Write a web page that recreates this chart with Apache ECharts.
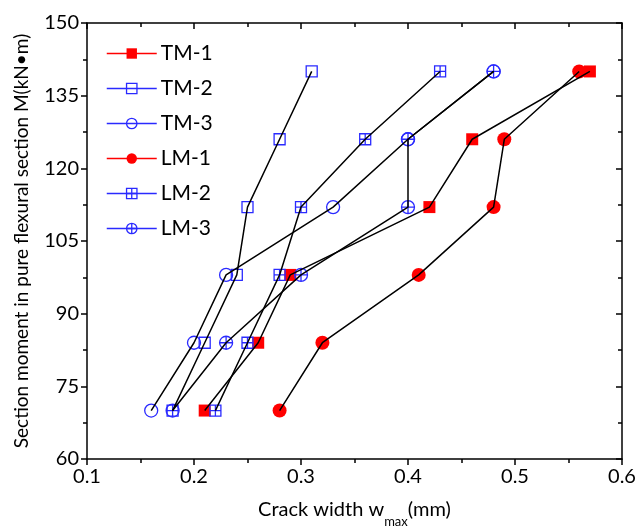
<!DOCTYPE html>
<html>
<head>
<meta charset="utf-8">
<script src="https://cdn.jsdelivr.net/npm/echarts@6/dist/echarts.min.js"></script>
<style>
  html, body { margin: 0; padding: 0; background: #fff; }
  #chart { width: 636px; height: 526px; }
</style>
</head>
<body>
<div id="chart"></div>
<script>
// Section moment levels (kN·m) at which crack widths were recorded
const moments = [70, 84, 98, 112, 126, 140];

// Maximum crack width w_max (mm) for each specimen at the moments above
const tm1 = [0.21, 0.26, 0.29, 0.42, 0.46, 0.57];
const tm2 = [0.18, 0.21, 0.24, 0.25, 0.28, 0.31];
const tm3 = [0.16, 0.20, 0.23, 0.33, 0.40, 0.48];
const lm1 = [0.28, 0.32, 0.41, 0.48, 0.49, 0.56];
const lm2 = [0.22, 0.25, 0.28, 0.30, 0.36, 0.43];
const lm3 = [0.18, 0.23, 0.30, 0.40, 0.40, 0.48];

const names = ['TM-1', 'TM-2', 'TM-3', 'LM-1', 'LM-2', 'LM-3'];
const widths = [tm1, tm2, tm3, lm1, lm2, lm3];

const RED = '#ff0000';
const BLUE = '#2a2aff';
const FONT = 'Lato';

// Marker glyphs: filled square, open square, open circle, filled circle,
// square with cross, circle with cross
const SQ_PLUS = 'path://M0,0H10V10H0Z M5,0V10 M0,5H10';
const CI_PLUS = 'path://M10,5A5,5,0,1,1,0,5A5,5,0,1,1,10,5Z M5,0V10 M0,5H10';
const styles = [
  { symbol: 'rect', size: 12, color: RED, fill: true },
  { symbol: 'rect', size: 11, color: BLUE, fill: false },
  { symbol: 'circle', size: 13, color: BLUE, fill: false },
  { symbol: 'circle', size: 14, color: RED, fill: true },
  { symbol: SQ_PLUS, size: 11, color: BLUE, fill: false },
  { symbol: CI_PLUS, size: 13, color: BLUE, fill: false }
];
const markerZ = [4, 5, 5, 3, 6, 7];

function pairs(xs) {
  return xs.map((w, i) => [w, moments[i]]);
}

const series = [];
// Coloured markers (legend entries); their own connecting line is hidden
names.forEach((name, i) => {
  const s = styles[i];
  series.push({
    name: name,
    type: 'line',
    data: pairs(widths[i]),
    symbol: s.symbol,
    symbolSize: s.size,
    showSymbol: true,
    z: markerZ[i],
    lineStyle: { color: s.color, width: 1.5, opacity: 0 },
    itemStyle: {
      color: s.fill ? s.color : 'rgba(0,0,0,0)',
      borderColor: s.color,
      borderWidth: s.fill ? 0 : 1.3,
      opacity: 1
    },
    emphasis: { disabled: true },
    animation: false
  });
});
// Black connecting lines drawn above the markers
names.forEach((name, i) => {
  series.push({
    name: name + ' path',
    type: 'line',
    data: pairs(widths[i]),
    symbol: 'none',
    z: 10,
    silent: true,
    lineStyle: { color: '#000', width: 1.5 },
    emphasis: { disabled: true },
    animation: false
  });
});

const axisLine = { show: true, onZero: false, lineStyle: { color: '#000', width: 1.5 } };

const chart = echarts.init(document.getElementById('chart'), null, { renderer: 'canvas' });
chart.setOption({
  animation: false,
  backgroundColor: '#fff',
  grid: { left: 87, right: 14, top: 23, bottom: 67, containLabel: false, outerBoundsMode: 'none' },
  legend: {
    orient: 'vertical',
    left: 101,
    top: 38,
    itemWidth: 50,
    itemHeight: 13,
    itemGap: 14,
    textStyle: { fontFamily: FONT, fontSize: 21, color: '#000', padding: [0, 0, 0, -1] },
    data: names.map((n, i) => ({
      name: n,
      lineStyle: { color: styles[i].color, width: 1.5, opacity: 1 },
      itemStyle: {
        color: styles[i].fill ? styles[i].color : 'rgba(0,0,0,0)',
        borderColor: styles[i].color,
        borderWidth: styles[i].fill ? 0 : 1.3
      }
    })),
    selectedMode: false
  },
  xAxis: [
    {
      type: 'value',
      position: 'bottom',
      min: 0.1,
      max: 0.6,
      interval: 0.1,
      axisLine: axisLine,
      axisTick: { show: true, inside: false, length: 6, lineStyle: { color: '#000', width: 1.5 } },
      minorTick: { show: true, splitNumber: 2, length: 4, lineStyle: { color: '#000', width: 1.5 } },
      splitLine: { show: false },
      axisLabel: {
        fontFamily: FONT, fontSize: 20, color: '#000', margin: 8,
        formatter: v => v.toFixed(1)
      },
      name: '{a|Crack width w}{s|max}{a|(mm)}',
      nameLocation: 'middle',
      nameGap: 37,
      nameTextStyle: {
        rich: {
          a: { fontFamily: FONT, fontSize: 20, color: '#000', lineHeight: 24, verticalAlign: 'bottom' },
          s: { fontFamily: FONT, fontSize: 13, color: '#000', lineHeight: 24, verticalAlign: 'bottom', padding: [0, 0, -8, 0] }
        }
      }
    },
    {
      type: 'value',
      position: 'top',
      min: 0.1,
      max: 0.6,
      interval: 0.1,
      axisLine: axisLine,
      axisTick: { show: true, inside: true, length: 6, lineStyle: { color: '#000', width: 1.5 } },
      minorTick: { show: true, splitNumber: 2, length: 4, lineStyle: { color: '#000', width: 1.5 } },
      splitLine: { show: false },
      axisLabel: { show: false }
    }
  ],
  yAxis: [
    {
      type: 'value',
      position: 'left',
      min: 60,
      max: 150,
      interval: 15,
      axisLine: axisLine,
      axisTick: { show: true, inside: false, length: 6, lineStyle: { color: '#000', width: 1.5 } },
      minorTick: { show: true, splitNumber: 2, length: 4, lineStyle: { color: '#000', width: 1.5 } },
      splitLine: { show: false },
      axisLabel: { fontFamily: FONT, fontSize: 20, color: '#000', margin: 8 },
      name: 'Section moment in pure flexural section M(kN\u2022m)',
      nameLocation: 'middle',
      nameGap: 56,
      nameTextStyle: { fontFamily: FONT, fontSize: 19, color: '#000' }
    },
    {
      type: 'value',
      position: 'right',
      min: 60,
      max: 150,
      interval: 15,
      axisLine: axisLine,
      axisTick: { show: true, inside: true, length: 6, lineStyle: { color: '#000', width: 1.5 } },
      minorTick: { show: true, splitNumber: 2, length: 4, lineStyle: { color: '#000', width: 1.5 } },
      splitLine: { show: false },
      axisLabel: { show: false }
    }
  ],
  series: series
});
</script>
</body>
</html>
